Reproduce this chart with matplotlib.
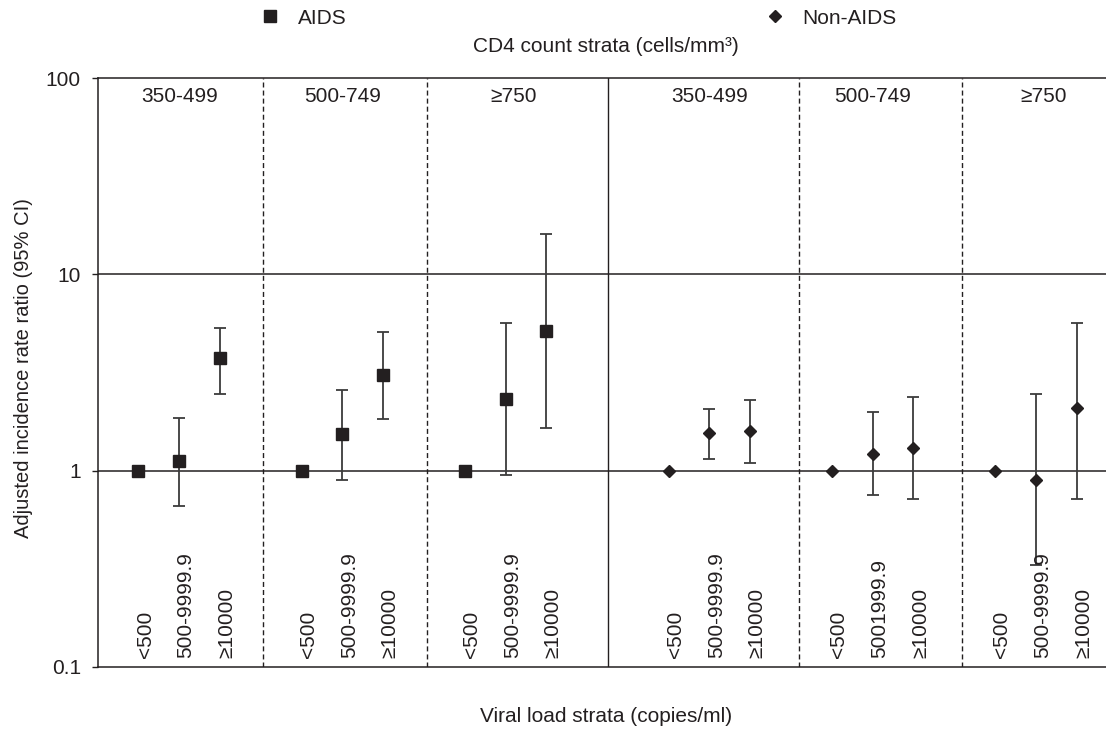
import numpy as np
import matplotlib
matplotlib.use("Agg")
import matplotlib.pyplot as plt
from matplotlib.lines import Line2D
import matplotlib.transforms as mtransforms

plt.rcParams['font.family'] = ['Liberation Sans', 'DejaVu Sans']

# ---- data ----
cd4_strata = ["350-499", "500-749", "\u2265750"]
vl_labels_aids = ["<500", "500-9999.9", "\u226510000"] * 3
vl_labels_nonaids = ["<500", "500-9999.9", "\u226510000",
                     "<500", "5001999.9", "\u226510000",
                     "<500", "500-9999.9", "\u226510000"]

aids_x = [0, 1, 2, 4, 5, 6, 8, 9, 10]
aids_est = [1, 1.12, 3.74, 1, 1.53, 3.06, 1, 2.31, 5.12]
aids_lo = [None, 0.66, 2.45, None, 0.90, 1.84, None, 0.95, 1.64]
aids_hi = [None, 1.85, 5.32, None, 2.57, 5.06, None, 5.64, 16.1]

nonaids_x = [13, 14, 15, 17, 18, 19, 21, 22, 23]
nonaids_est = [1, 1.55, 1.60, 1, 1.22, 1.30, 1, 0.90, 2.08]
nonaids_lo = [None, 1.14, 1.10, None, 0.75, 0.72, None, 0.33, 0.72]
nonaids_hi = [None, 2.05, 2.30, None, 1.98, 2.36, None, 2.45, 5.64]

yticks = [0.1, 1, 10, 100]
ytick_labels = ["0.1", "1", "10", "100"]

# ---- layout / style ----
W, H = 1106, 729
fig = plt.figure(figsize=(W / 100, H / 100), dpi=100)
AX_L = 98
ax = fig.add_axes([AX_L / W, 1 - 667 / H, 1 - AX_L / W, (667 - 78) / H])

DARK = '#231f20'
LINE = '#3c3c3c'
FS = 15

ax.set_yscale('log')
ax.set_ylim(0.1, 100)
ax.set_xlim(-0.99, 23.72)
ax.set_yticks(yticks)
ax.set_yticklabels(ytick_labels)
ax.yaxis.set_minor_locator(matplotlib.ticker.NullLocator())
ax.set_xticks([])
ax.tick_params(axis='y', length=4.3, width=1, color=DARK, pad=8, labelsize=FS,
               labelcolor=DARK)
for s in ['top', 'left', 'bottom']:
    ax.spines[s].set_color(DARK)
    ax.spines[s].set_linewidth(1.1)
ax.spines['right'].set_visible(False)

for yv in [1, 10]:
    ax.axhline(yv, color=DARK, lw=1.1, zorder=1)

DASH = (0, (3.6, 2.2))
for xv, ls in [(3.06, DASH), (7.07, DASH), (11.52, '-'), (16.19, DASH), (20.19, DASH)]:
    ax.axvline(xv, color=DARK, lw=1.0, ls=ls, zorder=1)


def draw(xs, est, lo, hi, marker, ms):
    idx = [i for i in range(len(xs)) if lo[i] is not None]
    xe = np.array([xs[i] for i in idx], dtype=float)
    ye = np.array([est[i] for i in idx], dtype=float)
    lower = ye - np.array([lo[i] for i in idx], dtype=float)
    upper = np.array([hi[i] for i in idx], dtype=float) - ye
    ax.errorbar(xe, ye, yerr=[lower, upper], fmt='none', ecolor=LINE,
                elinewidth=1.3, capsize=4.3, capthick=1.3, zorder=2)
    ax.plot(xs, est, ls='none', marker=marker, ms=ms, color=DARK,
            mec=DARK, zorder=3)


draw(aids_x, aids_est, aids_lo, aids_hi, 's', 9.0)
draw(nonaids_x, nonaids_est, nonaids_lo, nonaids_hi, 'D', 6.0)

# viral load labels (rotated)
for xs, labs in [(aids_x, vl_labels_aids), (nonaids_x, vl_labels_nonaids)]:
    for xv, lab in zip(xs, labs):
        ax.text(xv + 0.17, 0.111, lab, rotation=90, ha='center', va='bottom',
                fontsize=FS, color=DARK, zorder=4)

# CD4 strata labels
blend = mtransforms.blended_transform_factory(ax.transData, ax.transAxes)
label_shift = [0, 0, 0.2]
for xs in [aids_x, nonaids_x]:
    for g in range(3):
        ax.text(xs[g * 3 + 1] + label_shift[g], 0.968, cd4_strata[g],
                ha='center', va='center', fontsize=FS, color=DARK, transform=blend)

ax.set_ylabel("Adjusted incidence rate ratio (95% CI)", fontsize=14.5, color=DARK)
ax.yaxis.set_label_coords(23.5 / W, 1 - 368 / H, transform=fig.transFigure)
ax.yaxis.label.set_va('center')

fig.text(606 / W, 1 - 46 / H, "CD4 count strata (cells/mm\u00b3)", ha='center',
         va='center', fontsize=FS, color=DARK)
fig.text(606 / W, 1 - 717 / H, "Viral load strata (copies/ml)", ha='center',
         va='center', fontsize=FS, color=DARK)

# legends
h1 = Line2D([], [], ls='none', marker='s', ms=8.4, color=DARK)
h2 = Line2D([], [], ls='none', marker='D', ms=6.0, color=DARK)
em = FS * 100 / 72
for h, lab, xm in [(h1, "AIDS", 269.5), (h2, "Non-AIDS", 774.5)]:
    lg = fig.legend(handles=[h], labels=[lab], loc='center left',
                    bbox_to_anchor=((xm - 0.5 * em) / W, 1 - 18 / H),
                    frameon=False, fontsize=FS, handlelength=1.0,
                    handletextpad=(28 - 0.5 * em) / em + 0.0, borderpad=0,
                    borderaxespad=0)
    for t in lg.get_texts():
        t.set_color(DARK)

fig.savefig("out.png", dpi=100)
